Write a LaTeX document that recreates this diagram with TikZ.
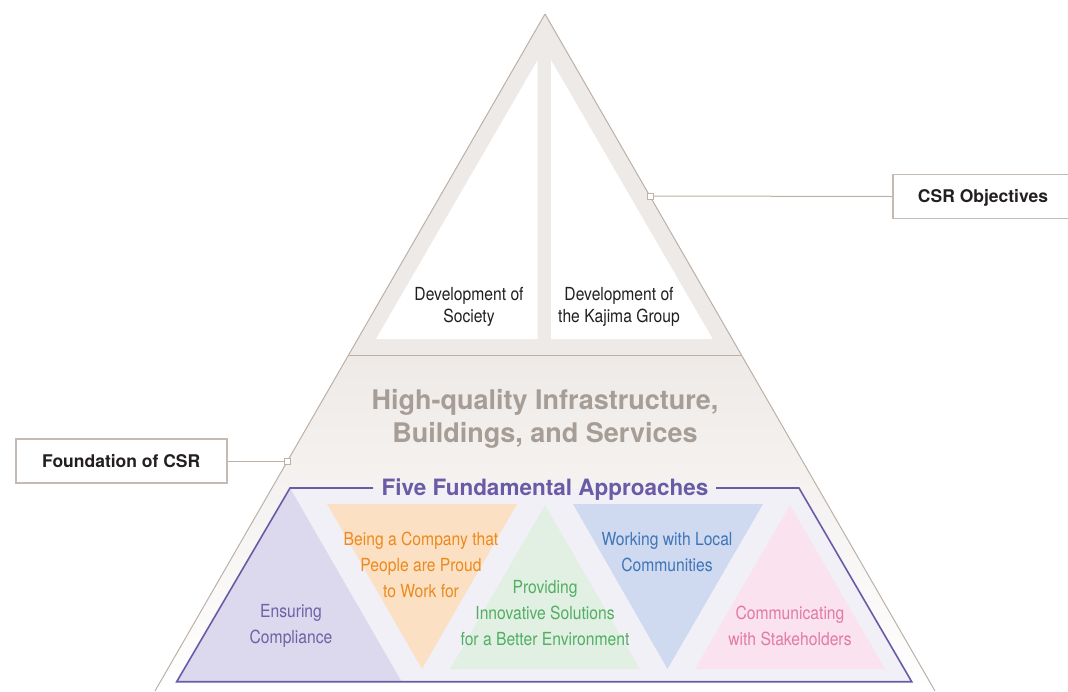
\documentclass[tikz,border=0pt]{standalone}
\usepackage{fontspec}
\setmainfont{TeX Gyre Heros}
\newfontfamily\cond[FakeStretch=0.87]{TeX Gyre Heros}
\definecolor{topg}{HTML}{EEEAE7}
\definecolor{edgec}{HTML}{BDB1A7}
\definecolor{boxc}{HTML}{C5BBB3}
\definecolor{darktxt}{HTML}{231F20}
\definecolor{hqtxt}{HTML}{A69D96}
\definecolor{trapfill}{HTML}{F1F0F7}
\definecolor{purp}{HTML}{6B5BA6}
\definecolor{purpfill}{HTML}{DCD9EE}
\definecolor{purptxt}{HTML}{6C62A5}
\definecolor{orfill}{HTML}{FCE0C3}
\definecolor{ortxt}{HTML}{EB8A1E}
\definecolor{grfill}{HTML}{E1F0E3}
\definecolor{grtxt}{HTML}{52AE63}
\definecolor{blfill}{HTML}{CFD9EF}
\definecolor{bltxt}{HTML}{3F75B8}
\definecolor{pkfill}{HTML}{FAE2EE}
\definecolor{pktxt}{HTML}{E27AA6}
\begin{document}
\begin{tikzpicture}[x=1pt,y=-1pt,
  edge/.style={draw=edgec, line width=1pt},
  small/.style={font=\cond\fontsize{18}{22}\selectfont, align=center, inner sep=0pt},
  tri/.style={font=\cond\fontsize{18}{26}\selectfont, align=center, inner sep=0pt},
  labelbox/.style={draw=boxc, line width=1.6pt, fill=white, minimum height=44pt,
    text height=12.6pt, text depth=0pt,
    font=\bfseries\fontsize{17.5}{20}\selectfont, text=darktxt, inner sep=0pt},
  sq/.style={draw=edgec, line width=0.8pt, fill=white, minimum size=6pt, inner sep=0pt},
  conn/.style={draw=edgec, line width=1pt}]
\useasboundingbox (0,0) rectangle (1068,691);
\fill[white] (0,0) rectangle (1068,691);
% pyramid
\coordinate (apex) at (545,14);
\coordinate (ml) at (348.6,355);
\coordinate (mr) at (741.4,355);
\coordinate (bl) at (155,691);
\coordinate (br) at (935,691);
\fill[topg] (apex) -- (ml) -- (mr) -- cycle;
\shade[top color=topg, bottom color=white] (ml) -- (mr) -- (br) -- (bl) -- cycle;
\fill[white] (537.7,60) -- (376,339) -- (537.7,339) -- cycle;
\fill[white] (551,60) -- (551,339) -- (712.7,339) -- cycle;
\draw[edge] (apex) -- (bl);
\draw[edge] (apex) -- (br);
\draw[edge] (ml) -- (mr);
% top texts
\node[small, text=darktxt] (soc) at (469,307) {Development of\\Society};
\node[small, text=darktxt] (kaj) at (619,307) {Development of\\the Kajima Group};
\node[font=\bfseries\fontsize{27}{33}\selectfont, text=hqtxt, align=center, inner sep=0pt] (hq) at (545,419) {High-quality Infrastructure,\\Buildings, and Services};
% five approaches
\fill[trapfill] (290,488) -- (799,488) -- (911.7,681.7) -- (176.7,681.7) -- cycle;
\fill[purpfill] (290,488) -- (176.7,681.7) -- (401.7,681.7) -- cycle;
\fill[orfill] (327,504) -- (517,504) -- (422,669) -- cycle;
\fill[grfill] (545,505) -- (450,669) -- (640,669) -- cycle;
\fill[blfill] (573,504) -- (763,504) -- (667.5,669) -- cycle;
\fill[pkfill] (790,505) -- (695,669) -- (885,669) -- cycle;
\draw[purp, line width=1.6pt, line join=miter] (373,488) -- (290,488) -- (176.7,681.7) -- (911.7,681.7) -- (799,488) -- (716,488);
\node[font=\bfseries\fontsize{22.5}{26}\selectfont, text=purp, inner sep=0pt, anchor=base] (five) at (545,495.5) {Five Fundamental Approaches};
\node[tri, text=purptxt] (ens) at (291,626) {Ensuring\\Compliance};
\node[tri, text=ortxt] (bei) at (421,565) {Being a Company that\\People are Proud\\to Work for};
\node[tri, text=grtxt] (pro) at (545,613) {Providing\\Innovative Solutions\\for a Better Environment};
\node[tri, text=bltxt] (wor) at (667,552) {Working with Local\\Communities};
\node[tri, text=pktxt] (com) at (790,626) {Communicating\\with Stakeholders};
% labels
\node[labelbox, minimum width=180pt] (csr) at (983,196.5) {CSR Objectives};
\node[labelbox, minimum width=211pt] (fnd) at (121.2,461) {Foundation of CSR};
\node[sq] (csq) at (650,196) {};
\node[sq] (fsq) at (287.5,461) {};
\draw[conn] (csr.west) -- (csq.east);
\draw[conn] (fnd.east) -- (fsq.west);
\end{tikzpicture}
\end{document}
